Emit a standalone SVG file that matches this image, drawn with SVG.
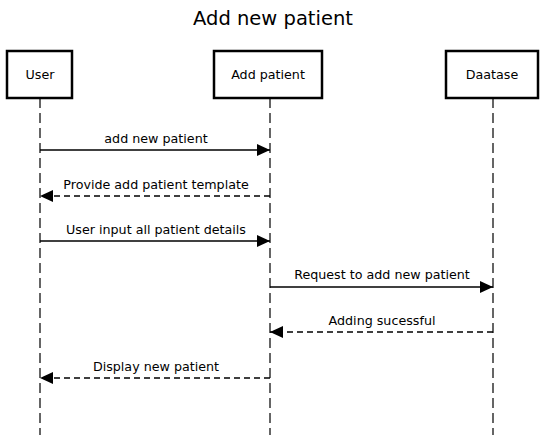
<svg xmlns="http://www.w3.org/2000/svg" width="545" height="435" viewBox="0 0 545 435">
<defs>
<marker id="ah" markerWidth="14" markerHeight="12" refX="13" refY="6" orient="auto" markerUnits="userSpaceOnUse">
<path d="M0,0 L13,6 L0,12 Z" fill="#000"/>
</marker>
</defs>
<style>
text{font-family:"DejaVu Sans","Liberation Sans",sans-serif;fill:#000}
.lbl{font-size:12.7px;text-anchor:middle}
.title{font-size:19.5px;text-anchor:middle}
.box{fill:#fff;stroke:#000;stroke-width:2.5}
.life{stroke:#333;stroke-width:1.5;stroke-dasharray:10,5;fill:none}
.msg{stroke:#000;stroke-width:1.3;fill:none;marker-end:url(#ah)}
.ret{stroke-dasharray:6,4}
</style>
<rect width="545" height="435" fill="#fff"/>
<text class="title" x="273" y="25">Add new patient</text>
<g id="lifelines">
<line class="life" x1="40" y1="98" x2="40" y2="435"/>
<line class="life" x1="270" y1="98" x2="270" y2="435"/>
<line class="life" x1="493" y1="98" x2="493" y2="435"/>
</g>
<g id="user"><rect class="box" x="7" y="51" width="65" height="47"/><text class="lbl" x="40" y="79">User</text></g>
<g id="addpatient"><rect class="box" x="214" y="51" width="108" height="47"/><text class="lbl" x="268" y="79">Add patient</text></g>
<g id="database"><rect class="box" x="446" y="51" width="92" height="47"/><text class="lbl" x="492" y="79">Daatase</text></g>
<g id="connectors">
<line class="msg" x1="40" y1="150" x2="270" y2="150"/>
<line class="msg ret" x1="270" y1="196" x2="40" y2="196"/>
<line class="msg" x1="40" y1="241" x2="270" y2="241"/>
<line class="msg" x1="270" y1="287" x2="493" y2="287"/>
<line class="msg ret" x1="493" y1="332" x2="270" y2="332"/>
<line class="msg ret" x1="270" y1="378" x2="40" y2="378"/>
<text class="lbl" x="156" y="143">add new patient</text>
<text class="lbl" x="156" y="189">Provide add patient template</text>
<text class="lbl" x="156" y="234">User input all patient details</text>
<text class="lbl" x="382" y="279">Request to add new patient</text>
<text class="lbl" x="382" y="325">Adding sucessful</text>
<text class="lbl" x="156" y="371">Display new patient</text>
</g>
</svg>
